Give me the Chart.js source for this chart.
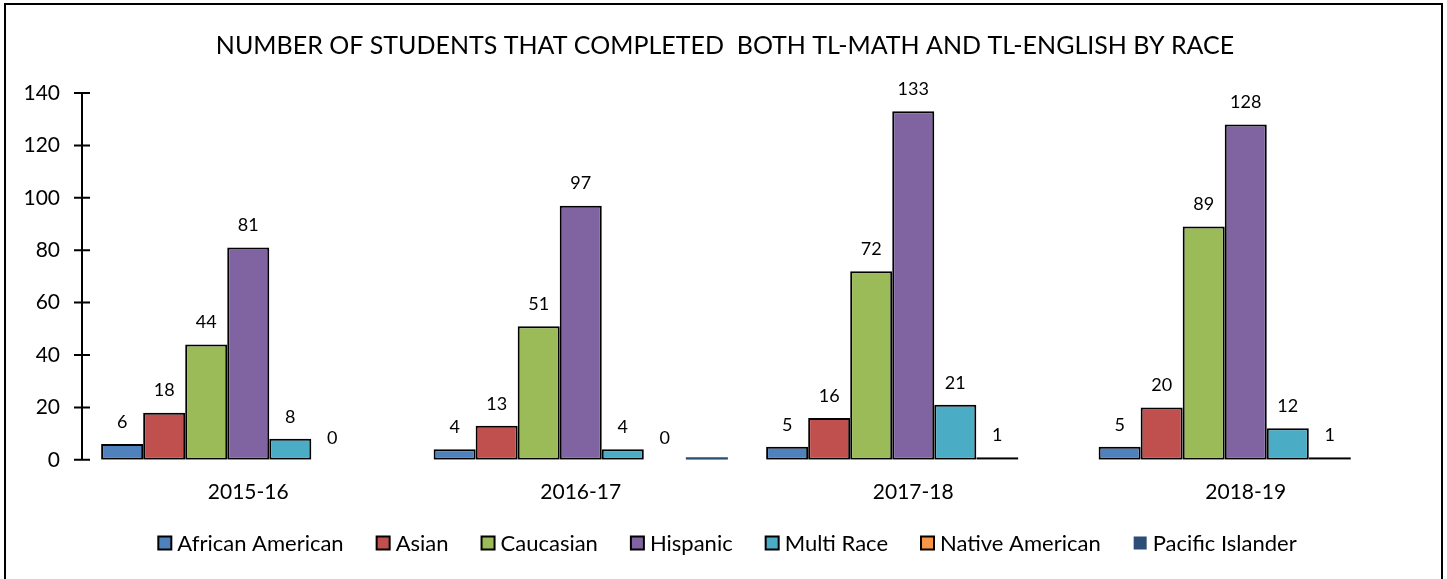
<!DOCTYPE html>
<html>
<head>
<meta charset="utf-8">
<script src="https://cdn.jsdelivr.net/npm/chart.js@4/dist/chart.umd.min.js"></script>
<style>
html,body{margin:0;padding:0;background:#fff;}
#wrap{position:relative;width:1447px;height:579px;}
</style>
</head>
<body>
<div id="wrap"><canvas id="c" width="1447" height="579"></canvas></div>
<script>
const categories = ["2015-16", "2016-17", "2017-18", "2018-19"];
const seriesNames = ["African American", "Asian", "Caucasian", "Hispanic", "Multi Race", "Native American", "Pacific Islander"];
const africanAmerican = [6, 4, 5, 5];
const asian = [18, 13, 16, 20];
const caucasian = [44, 51, 72, 89];
const hispanic = [81, 97, 133, 128];
const multiRace = [8, 4, 21, 12];
const nativeAmerican = [0, 0, 1, 1];
const pacificIslander = [null, 1, null, null];
const seriesColors = ["#4F81BD", "#C0504D", "#9BBB59", "#8064A2", "#4BACC6", "#F79646", "#2C4D75"];
const yTicks = [0, 20, 40, 60, 80, 100, 120, 140];
const chartTitle = "NUMBER OF STUDENTS THAT COMPLETED  BOTH TL-MATH AND TL-ENGLISH BY RACE";

const FONT = "Lato, 'Liberation Sans', sans-serif";
const allValues = [africanAmerican, asian, caucasian, hispanic, multiRace, nativeAmerican, pacificIslander];

const datasets = allValues.map((vals, i) => ({
  label: seriesNames[i],
  data: vals,
  backgroundColor: seriesColors[i],
  borderColor: i === 6 ? seriesColors[i] : "#000",
  borderWidth: i === 6 ? 0 : (ctx => (ctx.raw === 0 ? 0 : 2)),
  borderSkipped: false,
  showLabels: i !== 6,
  categoryPercentage: 0.885,
  barPercentage: 1.0
}));

const labelPlugin = {
  id: "barLabels",
  afterDatasetsDraw(chart) {
    const ctx = chart.ctx;
    ctx.save();
    ctx.font = "18px " + FONT;
    ctx.fillStyle = "#000";
    ctx.textAlign = "center";
    ctx.textBaseline = "middle";
    chart.data.datasets.forEach((ds, di) => {
      if (!ds.showLabels) return;
      const meta = chart.getDatasetMeta(di);
      meta.data.forEach((bar, j) => {
        const v = ds.data[j];
        if (v === null || v === undefined) return;
        ctx.fillText(String(v), bar.x, bar.y - 22);
      });
    });
    ctx.restore();
  }
};

const decoPlugin = {
  id: "deco",
  afterDraw(chart) {
    const ctx = chart.ctx;
    const y = chart.scales.y;
    const x0 = chart.chartArea.left;
    ctx.save();
    ctx.strokeStyle = "#000";
    ctx.lineWidth = 2;
    ctx.beginPath();
    ctx.moveTo(x0, y.getPixelForValue(140));
    ctx.lineTo(x0, y.getPixelForValue(0));
    yTicks.forEach(t => {
      const py = y.getPixelForValue(t);
      ctx.moveTo(x0 - 8, py);
      ctx.lineTo(x0 + 8, py);
    });
    ctx.stroke();
    ctx.fillStyle = "#000";
    ctx.font = "25px " + FONT;
    ctx.textAlign = "center";
    ctx.textBaseline = "middle";
    ctx.fillText(chartTitle, 725, 46);
    ctx.font = "22px " + FONT;
    ctx.textAlign = "left";
    const box = 13, gapText = 6, gapItem = 33, cy = 543;
    const widths = seriesNames.map(n => ctx.measureText(n).width);
    let total = 0;
    widths.forEach((w, i) => { total += box + gapText + w + (i < widths.length - 1 ? gapItem : 0); });
    let x = 727.5 - total / 2;
    chart.data.datasets.forEach((ds, i) => {
      ctx.fillStyle = ds.backgroundColor;
      ctx.fillRect(x, cy - box / 2, box, box);
      if (i !== 6) {
        ctx.strokeStyle = "#000";
        ctx.lineWidth = 2;
        ctx.strokeRect(x, cy - box / 2, box, box);
      }
      ctx.fillStyle = "#000";
      ctx.fillText(seriesNames[i], x + box + gapText, cy + 1);
      x += box + gapText + widths[i] + gapItem;
    });
    ctx.strokeStyle = "#000";
    ctx.lineWidth = 2;
    ctx.strokeRect(5, 4, 1437, 590);
    ctx.restore();
  }
};

new Chart(document.getElementById("c"), {
  type: "bar",
  data: { labels: categories, datasets: datasets },
  options: {
    responsive: false,
    animation: false,
    devicePixelRatio: 1,
    layout: { padding: { left: 6, right: 35, top: 93, bottom: 54 } },
    plugins: {
      title: { display: false },
      legend: { display: false },
      tooltip: { enabled: false }
    },
    scales: {
      x: {
        grid: { display: false, drawTicks: false },
        border: { display: false },
        ticks: { color: "#000", font: { family: FONT, size: 21 }, padding: 20 }
      },
      y: {
        min: 0,
        max: 140,
        afterBuildTicks: s => { s.ticks = yTicks.map(v => ({ value: v })); },
        afterFit: s => { s.width = 76; },
        grid: { display: false, drawTicks: false },
        border: { display: false },
        ticks: { color: "#000", font: { family: FONT, size: 21 }, padding: 22 }
      }
    }
  },
  plugins: [labelPlugin, decoPlugin]
});
</script>
</body>
</html>
